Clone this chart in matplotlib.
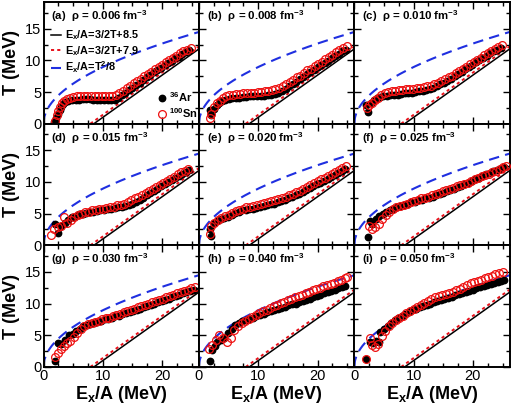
import numpy as np
import matplotlib
matplotlib.use("Agg")
import matplotlib.pyplot as plt
from matplotlib.lines import Line2D
from matplotlib.ticker import MultipleLocator

plt.rcParams['font.family'] = ['Liberation Sans', 'DejaVu Sans']
plt.rcParams['mathtext.fontset'] = 'custom'
plt.rcParams['mathtext.rm'] = 'Liberation Sans'
plt.rcParams['mathtext.bf'] = 'Liberation Sans:bold'

panel_tags = ['(a)', '(b)', '(c)', '(d)', '(e)', '(f)', '(g)', '(h)', '(i)']
densities = ['0.006', '0.008', '0.010', '0.015', '0.020', '0.025', '0.030', '0.040', '0.050']

# model line parameters (from legend)
offset_black = 8.5
offset_red = 7.9
fermi_a = 8.0

# ---- data: 36Ar (filled) and 100Sn (open) ----
ar_x = [
 [1.8, 2.1, 2.4, 2.7, 3.0, 3.3, 3.7, 4.2, 4.8, 5.4, 6.0, 6.6, 7.2, 7.8, 8.4, 9.0, 9.6, 10.2, 10.8, 11.4, 12.0, 12.6, 13.2, 13.8, 14.4, 15.0, 15.6, 16.2, 16.8, 17.4, 18.0, 18.6, 19.2, 19.8, 20.4, 21.0, 21.6, 22.2, 22.8, 23.4, 24.0, 24.6],
 [1.9, 2.0, 2.5, 3.0, 3.4, 3.9, 4.4, 5.0, 5.6, 6.2, 6.8, 7.4, 8.0, 8.6, 9.2, 9.8, 10.4, 11.0, 11.6, 12.2, 12.8, 13.4, 14.0, 14.6, 15.2, 15.8, 16.4, 17.0, 17.6, 18.2, 18.8, 19.4, 20.0, 20.6, 21.2, 21.8, 22.4, 23.0, 23.6, 24.2, 24.8],
 [2.0, 2.3, 2.8, 3.3, 3.8, 4.3, 4.9, 5.5, 6.1, 6.7, 7.3, 7.9, 8.5, 9.1, 9.7, 10.3, 10.9, 11.5, 12.1, 12.7, 13.3, 13.9, 14.5, 15.1, 15.7, 16.3, 16.9, 17.5, 18.1, 18.7, 19.3, 19.9, 20.5, 21.1, 21.7, 22.3, 22.9, 23.5, 24.1, 24.7],
 [2.0, 2.5, 3.0, 3.6, 4.2, 4.8, 5.4, 6.0, 6.6, 7.2, 7.8, 8.4, 9.0, 9.6, 10.2, 10.8, 11.4, 12.0, 12.6, 13.2, 13.8, 14.4, 15.0, 15.6, 16.2, 16.8, 17.4, 18.0, 18.6, 19.2, 19.8, 20.4, 21.0, 21.6, 22.2, 22.8, 23.4, 24.0, 24.6],
 [1.8, 2.0, 2.6, 3.1, 3.7, 4.3, 4.9, 5.5, 6.1, 6.7, 7.3, 7.9, 8.5, 9.1, 9.7, 10.3, 10.9, 11.5, 12.1, 12.7, 13.3, 13.9, 14.5, 15.1, 15.7, 16.3, 16.9, 17.5, 18.1, 18.7, 19.3, 19.9, 20.5, 21.1, 21.7, 22.3, 22.9, 23.5, 24.1, 24.7],
 [2.3, 2.6, 3.0, 3.6, 4.2, 4.8, 5.4, 6.0, 6.6, 7.2, 7.8, 8.4, 9.0, 9.6, 10.2, 10.8, 11.4, 12.0, 12.6, 13.2, 13.8, 14.4, 15.0, 15.6, 16.2, 16.8, 17.4, 18.0, 18.6, 19.2, 19.8, 20.4, 21.0, 21.6, 22.2, 22.8, 23.4, 24.0, 24.6, 25.2],
 [2.0, 2.4, 3.0, 3.6, 4.3, 4.9, 5.5, 6.1, 6.7, 7.3, 7.9, 8.5, 9.1, 9.7, 10.3, 10.9, 11.5, 12.1, 12.7, 13.3, 13.9, 14.5, 15.1, 15.7, 16.3, 16.9, 17.5, 18.1, 18.7, 19.3, 19.9, 20.5, 21.1, 21.7, 22.3, 22.9, 23.5, 24.1, 24.7, 25.3],
 [1.9, 2.2, 2.7, 3.1, 3.7, 4.3, 4.9, 5.5, 6.1, 6.7, 7.3, 7.9, 8.5, 9.1, 9.7, 10.3, 10.9, 11.5, 12.1, 12.7, 13.3, 13.9, 14.5, 15.1, 15.7, 16.3, 16.9, 17.5, 18.1, 18.7, 19.3, 19.9, 20.5, 21.1, 21.7, 22.3, 22.9, 23.5, 24.1, 24.7],
 [2.0, 2.7, 3.2, 3.7, 4.1, 4.4, 5.0, 5.6, 6.2, 6.8, 7.4, 8.0, 8.6, 9.2, 9.8, 10.4, 11.0, 11.6, 12.2, 12.8, 13.4, 14.0, 14.6, 15.2, 15.8, 16.4, 17.0, 17.6, 18.2, 18.8, 19.4, 20.0, 20.6, 21.2, 21.8, 22.4, 23.0, 23.6, 24.2, 24.8, 25.2],
]
ar_T = [
 [0.3, 0.9, 1.5, 2.1, 2.7, 3.1, 3.4, 3.6, 3.7, 3.8, 3.8, 3.9, 3.9, 3.9, 3.8, 3.8, 3.8, 3.8, 3.8, 3.8, 3.8, 4.1, 4.5, 4.9, 5.3, 5.7, 6.1, 6.5, 6.9, 7.3, 7.7, 8.1, 8.5, 8.8, 9.2, 9.6, 9.9, 10.3, 10.6, 11.0, 11.3, 11.6],
 [2.1, 1.4, 2.3, 2.9, 3.3, 3.6, 3.8, 3.9, 4.0, 4.1, 4.1, 4.2, 4.2, 4.3, 4.3, 4.3, 4.4, 4.4, 4.5, 4.6, 4.7, 4.9, 5.2, 5.5, 5.9, 6.3, 6.6, 7.0, 7.4, 7.8, 8.1, 8.5, 8.9, 9.2, 9.6, 9.9, 10.3, 10.7, 11.0, 11.4, 11.7],
 [3.0, 1.8, 3.3, 3.7, 4.0, 4.2, 4.3, 4.4, 4.5, 4.6, 4.6, 4.7, 4.8, 4.8, 4.9, 5.0, 5.1, 5.2, 5.3, 5.5, 5.7, 5.9, 6.2, 6.5, 6.8, 7.1, 7.5, 7.9, 8.2, 8.6, 9.0, 9.3, 9.7, 10.0, 10.4, 10.7, 11.1, 11.4, 11.7, 12.0],
 [3.4, 1.9, 3.1, 3.6, 4.0, 4.4, 4.7, 4.9, 5.0, 5.1, 5.2, 5.3, 5.4, 5.5, 5.6, 5.7, 5.8, 5.9, 6.0, 6.1, 6.2, 6.4, 6.6, 6.9, 7.2, 7.5, 7.9, 8.2, 8.6, 8.9, 9.3, 9.6, 10.0, 10.3, 10.7, 11.0, 11.3, 11.6, 11.9],
 [2.6, 1.5, 3.5, 3.9, 4.1, 4.3, 4.5, 4.8, 5.1, 5.3, 5.5, 5.6, 5.7, 5.8, 5.9, 6.1, 6.2, 6.3, 6.5, 6.6, 6.8, 7.0, 7.2, 7.4, 7.6, 7.9, 8.1, 8.4, 8.7, 9.0, 9.3, 9.6, 9.9, 10.2, 10.5, 10.8, 11.1, 11.4, 11.7, 12.0],
 [1.3, 3.9, 3.4, 4.2, 4.6, 4.9, 5.2, 5.5, 5.8, 6.0, 6.2, 6.4, 6.6, 6.8, 6.9, 7.1, 7.2, 7.4, 7.5, 7.7, 7.9, 8.1, 8.3, 8.5, 8.7, 8.9, 9.2, 9.4, 9.7, 9.9, 10.2, 10.4, 10.7, 10.9, 11.2, 11.4, 11.7, 11.9, 12.1, 12.3],
 [1.0, 3.8, 3.6, 4.3, 5.0, 5.2, 5.6, 6.0, 6.4, 6.6, 6.8, 7.0, 7.1, 7.3, 7.5, 7.6, 7.8, 8.0, 8.1, 8.3, 8.5, 8.6, 8.8, 9.0, 9.2, 9.4, 9.6, 9.8, 10.0, 10.2, 10.4, 10.6, 10.8, 11.0, 11.2, 11.4, 11.6, 11.8, 12.0, 12.2],
 [1.0, 2.6, 3.3, 3.9, 4.2, 4.6, 5.3, 6.0, 6.6, 6.9, 7.2, 7.4, 7.6, 7.8, 8.0, 8.2, 8.4, 8.6, 8.8, 9.0, 9.2, 9.3, 9.5, 9.7, 9.9, 10.0, 10.2, 10.4, 10.6, 10.8, 11.0, 11.2, 11.4, 11.6, 11.8, 12.0, 12.2, 12.4, 12.6, 12.8],
 [1.3, 4.0, 3.8, 4.1, 4.0, 5.5, 6.0, 6.5, 7.0, 7.4, 7.8, 8.1, 8.4, 8.7, 9.0, 9.2, 9.4, 9.6, 9.8, 10.0, 10.2, 10.4, 10.5, 10.7, 10.9, 11.1, 11.3, 11.5, 11.7, 11.9, 12.0, 12.2, 12.4, 12.6, 12.7, 12.9, 13.1, 13.2, 13.4, 13.6, 13.7],
]
sn_x = [
 [1.9, 2.2, 2.5, 2.8, 3.1, 3.5, 3.9, 4.4, 5.0, 5.6, 6.2, 6.8, 7.4, 8.0, 8.6, 9.2, 9.8, 10.4, 11.0, 11.6, 12.2, 12.8, 13.4, 14.0, 14.6, 15.2, 15.8, 16.4, 17.0, 17.6, 18.2, 18.8, 19.4, 20.0, 20.6, 21.2, 21.8, 22.4, 23.0, 23.6, 24.2, 24.8],
 [1.9, 2.1, 2.6, 3.1, 3.5, 4.0, 4.5, 5.1, 5.7, 6.3, 6.9, 7.5, 8.1, 8.7, 9.3, 9.9, 10.5, 11.1, 11.7, 12.3, 12.9, 13.5, 14.1, 14.7, 15.3, 15.9, 16.5, 17.1, 17.7, 18.3, 18.9, 19.5, 20.1, 20.7, 21.3, 21.9, 22.5, 23.1, 23.7, 24.3, 24.9],
 [2.1, 2.5, 3.0, 3.5, 4.0, 4.5, 5.1, 5.7, 6.3, 6.9, 7.5, 8.1, 8.7, 9.3, 9.9, 10.5, 11.1, 11.7, 12.3, 12.9, 13.5, 14.1, 14.7, 15.3, 15.9, 16.5, 17.1, 17.7, 18.3, 18.9, 19.5, 20.1, 20.7, 21.3, 21.9, 22.5, 23.1, 23.7, 24.3, 24.9],
 [1.2, 1.8, 2.4, 2.9, 3.5, 4.0, 4.6, 5.2, 5.8, 6.4, 7.0, 7.6, 8.2, 8.8, 9.4, 10.0, 10.6, 11.2, 11.8, 12.4, 13.0, 13.6, 14.2, 14.8, 15.4, 16.0, 16.6, 17.2, 17.8, 18.4, 19.0, 19.6, 20.2, 20.8, 21.4, 22.0, 22.6, 23.2, 23.8, 24.4],
 [1.8, 2.1, 2.6, 3.2, 3.8, 4.4, 5.0, 5.6, 6.2, 6.8, 7.4, 8.0, 8.6, 9.2, 9.8, 10.4, 11.0, 11.6, 12.2, 12.8, 13.4, 14.0, 14.6, 15.2, 15.8, 16.4, 17.0, 17.6, 18.2, 18.8, 19.4, 20.0, 20.6, 21.2, 21.8, 22.4, 23.0, 23.6, 24.2, 24.8],
 [2.4, 2.9, 3.5, 4.1, 4.7, 5.3, 5.9, 6.5, 7.1, 7.7, 8.3, 8.9, 9.5, 10.1, 10.7, 11.3, 11.9, 12.5, 13.1, 13.7, 14.3, 14.9, 15.5, 16.1, 16.7, 17.3, 17.9, 18.5, 19.1, 19.7, 20.3, 20.9, 21.5, 22.1, 22.7, 23.3, 23.9, 24.5, 25.1, 25.5],
 [2.0, 2.4, 2.9, 3.4, 3.9, 4.5, 5.1, 5.7, 6.3, 6.9, 7.5, 8.1, 8.7, 9.3, 9.9, 10.5, 11.1, 11.7, 12.3, 12.9, 13.5, 14.1, 14.7, 15.3, 15.9, 16.5, 17.1, 17.7, 18.3, 18.9, 19.5, 20.1, 20.7, 21.3, 21.9, 22.5, 23.1, 23.7, 24.3, 24.9, 25.5],
 [1.7, 2.2, 2.8, 3.4, 4.0, 4.8, 5.4, 6.0, 6.6, 7.2, 7.8, 8.4, 9.0, 9.6, 10.2, 10.8, 11.4, 12.0, 12.6, 13.2, 13.8, 14.4, 15.0, 15.6, 16.2, 16.8, 17.4, 18.0, 18.6, 19.2, 19.8, 20.4, 21.0, 21.6, 22.2, 22.8, 23.4, 24.0, 24.6, 25.0],
 [2.0, 2.7, 3.0, 3.5, 4.0, 4.6, 5.2, 5.8, 6.4, 7.0, 7.6, 8.2, 8.8, 9.4, 10.0, 10.6, 11.2, 11.8, 12.4, 13.0, 13.6, 14.2, 14.8, 15.4, 16.0, 16.6, 17.2, 17.8, 18.4, 19.0, 19.6, 20.2, 20.8, 21.4, 22.0, 22.6, 23.2, 23.8, 24.4, 25.0],
]
sn_T = [
 [0.5, 1.3, 2.0, 2.7, 3.2, 3.6, 3.9, 4.1, 4.2, 4.3, 4.3, 4.4, 4.4, 4.4, 4.4, 4.4, 4.4, 4.3, 4.3, 4.4, 4.5, 4.8, 5.2, 5.6, 6.0, 6.4, 6.8, 7.1, 7.5, 7.9, 8.2, 8.6, 9.0, 9.3, 9.7, 10.0, 10.4, 10.7, 11.1, 11.4, 11.7, 12.0],
 [0.9, 1.6, 2.6, 3.2, 3.6, 4.0, 4.3, 4.5, 4.6, 4.7, 4.7, 4.8, 4.8, 4.9, 4.9, 5.0, 5.0, 5.1, 5.2, 5.3, 5.4, 5.6, 5.9, 6.2, 6.6, 6.9, 7.3, 7.6, 8.0, 8.4, 8.7, 9.1, 9.5, 9.8, 10.2, 10.5, 10.9, 11.3, 11.6, 12.0, 12.3],
 [2.5, 2.9, 3.3, 3.7, 4.1, 4.5, 4.8, 5.0, 5.1, 5.2, 5.3, 5.3, 5.4, 5.5, 5.5, 5.6, 5.7, 5.8, 5.9, 6.0, 6.2, 6.4, 6.7, 7.0, 7.3, 7.6, 8.0, 8.3, 8.7, 9.0, 9.4, 9.7, 10.1, 10.4, 10.8, 11.1, 11.5, 11.8, 12.1, 12.4],
 [1.6, 2.5, 2.9, 3.0, 4.4, 3.5, 4.0, 4.5, 4.8, 5.0, 5.2, 5.3, 5.5, 5.6, 5.7, 5.8, 5.9, 6.0, 6.1, 6.3, 6.4, 6.6, 6.8, 7.1, 7.4, 7.7, 8.0, 8.3, 8.6, 8.9, 9.2, 9.5, 9.9, 10.2, 10.5, 10.8, 11.2, 11.5, 11.8, 12.1],
 [1.8, 3.1, 3.6, 4.0, 4.3, 4.6, 4.8, 5.1, 5.4, 5.6, 5.8, 6.0, 6.1, 6.2, 6.4, 6.5, 6.7, 6.8, 7.0, 7.1, 7.3, 7.5, 7.7, 7.9, 8.1, 8.4, 8.6, 8.9, 9.2, 9.5, 9.8, 10.1, 10.4, 10.7, 11.0, 11.3, 11.6, 11.9, 12.2, 12.5],
 [3.0, 2.6, 2.9, 3.4, 4.1, 4.8, 5.3, 5.7, 6.0, 6.2, 6.4, 6.6, 6.8, 7.0, 7.2, 7.4, 7.5, 7.7, 7.9, 8.1, 8.3, 8.5, 8.7, 8.9, 9.1, 9.3, 9.5, 9.7, 9.9, 10.2, 10.4, 10.6, 10.9, 11.1, 11.3, 11.6, 11.8, 12.1, 12.3, 12.5],
 [1.5, 2.2, 2.8, 3.3, 3.7, 4.1, 4.8, 5.4, 6.0, 6.4, 6.7, 6.9, 7.1, 7.3, 7.5, 7.7, 7.8, 8.0, 8.2, 8.4, 8.6, 8.8, 9.0, 9.2, 9.4, 9.6, 9.8, 10.0, 10.2, 10.4, 10.6, 10.8, 11.0, 11.2, 11.4, 11.6, 11.8, 12.0, 12.2, 12.4, 12.6],
 [2.9, 3.4, 4.2, 5.0, 4.5, 3.9, 4.6, 5.8, 6.5, 7.0, 7.3, 7.6, 7.9, 8.2, 8.5, 8.8, 9.0, 9.3, 9.6, 9.8, 10.1, 10.3, 10.6, 10.8, 11.0, 11.2, 11.4, 11.6, 11.8, 12.1, 12.3, 12.5, 12.7, 12.9, 13.1, 13.3, 13.6, 13.8, 14.0, 14.2],
 [1.3, 4.5, 3.4, 3.2, 3.6, 4.9, 5.6, 6.5, 7.0, 7.4, 7.8, 8.1, 8.5, 8.8, 9.1, 9.5, 9.8, 10.1, 10.4, 10.7, 11.0, 11.2, 11.3, 11.5, 11.7, 11.9, 12.1, 12.3, 12.6, 12.9, 13.2, 13.4, 13.6, 13.8, 14.0, 14.2, 14.4, 14.6, 14.8, 15.0],
]

x_ticks = [0, 10, 20]
y_ticks = [0, 5, 10, 15]

fig = plt.figure(figsize=(5.12, 4.05), dpi=100)
L, W, B, H = 0.085, 0.3035, 0.094, 0.3003
XMAX, YMAX = 26.2, 19.2

xl = np.linspace(0, XMAX, 300)
blue_T = np.sqrt(fermi_a * xl)
xb = np.linspace(offset_black, XMAX, 100)
xr = np.linspace(offset_red, XMAX, 100)

BLUE = '#1f2fe0'
RED = '#e8101a'

for k in range(9):
    r, c = divmod(k, 3)
    ax = fig.add_axes([L + c * W, B + (2 - r) * H, W, H])
    ax.plot(xl, blue_T, color=BLUE, lw=1.5, dashes=(5, 3))
    ax.plot(xb, (xb - offset_black) * 2 / 3, color='black', lw=1.1)
    ax.plot(xr, (xr - offset_red) * 2 / 3, color=RED, lw=1.4, dashes=(1.6, 1.6))
    ax.plot(ar_x[k], ar_T[k], 'o', ms=4.6, color='black', mec='black', zorder=3)
    ax.plot(sn_x[k], sn_T[k], 'o', ms=5.6, mfc='none', mec='#ee1111', mew=0.9, zorder=4)
    ax.set_xlim(0, XMAX)
    ax.set_ylim(0, YMAX)
    ax.set_xticks(x_ticks)
    ax.set_yticks(y_ticks)
    ax.xaxis.set_minor_locator(MultipleLocator(2.5))
    ax.yaxis.set_minor_locator(MultipleLocator(2.5))
    ax.tick_params(which='both', direction='in', top=True, right=True, width=1.0, labelsize=10.5, pad=1.5)
    ax.tick_params(which='major', length=5)
    ax.tick_params(which='minor', length=3)
    for s in ax.spines.values():
        s.set_linewidth(1.4)
    if c != 0:
        ax.set_yticklabels([])
    else:
        ax.set_ylabel('T (MeV)', fontsize=13, fontweight='bold', labelpad=4)
    if r != 2:
        ax.set_xticklabels([])
    else:
        ax.set_xlabel(r'E$_{\mathbf{x}}$/A (MeV)', fontsize=13, fontweight='bold', labelpad=1)
    ax.text(0.05, 0.95, panel_tags[k] + '  \u03c1 = ' + densities[k] + ' fm$^{\\mathbf{-3}}$',
            transform=ax.transAxes, fontsize=8.2, fontweight='bold', va='top', ha='left')
    if k == 0:
        h1 = [Line2D([], [], color='black', lw=1.1),
              Line2D([], [], color=RED, lw=1.4, dashes=(1.6, 1.6)),
              Line2D([], [], color=BLUE, lw=1.5, dashes=(5, 3))]
        l1 = [r'E$_{\mathbf{x}}$/A=3/2T+8.5', r'E$_{\mathbf{x}}$/A=3/2T+7.9', r'E$_{\mathbf{x}}$/A=T$^{\mathbf{2}}$/8']
        leg1 = ax.legend(h1, l1, loc='upper left', bbox_to_anchor=(0.04, 0.79), frameon=False,
                         prop={'size': 7.8, 'weight': 'bold'}, handlelength=0.9, handletextpad=0.4,
                         labelspacing=0.15, borderpad=0.1, borderaxespad=0.0)
        ax.add_artist(leg1)
        h2 = [Line2D([], [], marker='o', ls='none', ms=4.6, color='black'),
              Line2D([], [], marker='o', ls='none', ms=5.6, mfc='none', mec='#ee1111', mew=0.9)]
        l2 = [r'$^{\mathbf{36}}$Ar', r'$^{\mathbf{100}}$Sn']
        ax.legend(h2, l2, loc='lower right', bbox_to_anchor=(1.0, 0.02), frameon=False,
                  prop={'size': 8, 'weight': 'bold'}, handlelength=0.6, handletextpad=0.3,
                  labelspacing=0.2, borderpad=0.1, borderaxespad=0.0)

fig.savefig('out.png', dpi=100)
